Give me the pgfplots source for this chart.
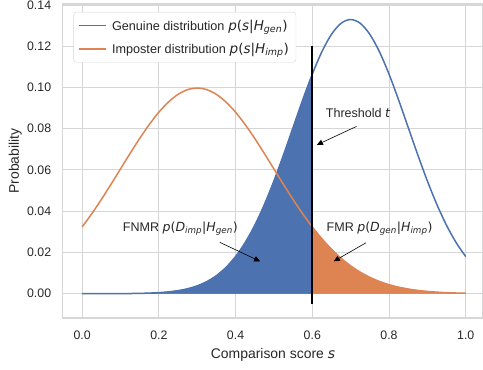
\documentclass[border=0pt]{standalone}
\usepackage{pgfplots}
\pgfplotsset{compat=1.18}
\usepackage{fontspec}
\setmainfont{Liberation Sans}
\newfontfamily\mfont{DejaVu Sans}
\usetikzlibrary{arrows.meta}

\definecolor{genblue}{HTML}{4C72B0}
\definecolor{imporange}{HTML}{DD8452}
\definecolor{gridgray}{HTML}{D6D6D6}
\definecolor{txt}{HTML}{262626}

% math-style pieces: italic symbols, upright delimiters, small italic subscripts
\newcommand{\mi}[1]{{\mfont\itshape #1}}
\newcommand{\mr}[1]{{\mfont #1}}
\newcommand{\msub}[1]{\textsubscript{\mfont\itshape #1}}
% slightly larger formula set inside the legend
\newcommand{\lmath}[1]{{\fontsize{13.6}{14}\selectfont #1}}

\pgfplotsset{
  longline/.style={legend image code/.code={\draw[##1, line width=1.5bp] (0bp,0bp) -- (27bp,0bp);}},
}

\begin{document}
\begin{tikzpicture}
\begin{axis}[
  scale only axis,
  width=420.5bp, height=314.3bp,
  xmin=-0.05, xmax=1.045,
  ymin=-0.01177, ymax=0.1405,
  xtick={0,0.2,0.4,0.6,0.8,1},
  ytick={0,0.02,0.04,0.06,0.08,0.1,0.12,0.14},
  /pgf/number format/assume math mode=true,
  ticklabel style={font=\fontsize{12.4}{15}\selectfont, text=txt, inner sep=0pt},
  xticklabel style={anchor=base, yshift=-21.7bp, /pgf/number format/.cd, fixed, fixed zerofill, precision=1},
  yticklabel style={anchor=east, xshift=-11.6bp, /pgf/number format/.cd, fixed, fixed zerofill, precision=2},
  major tick length=0pt,
  tick style={draw=none},
  grid=major,
  grid style={draw=gridgray, line width=1bp},
  axis line style={draw=gridgray, line width=1.1bp},
  every axis x label/.style={at={([yshift=-40.3bp]axis description cs:0.5,0)}, anchor=base,
    font=\fontsize{14}{16}\selectfont, text=txt, inner sep=0pt},
  every axis y label/.style={at={([xshift=-44bp]axis description cs:0,0.5)}, rotate=90, anchor=base,
    font=\fontsize{14}{16}\selectfont, text=txt, inner sep=0pt},
  xlabel={Comparison score \mi{s}},
  ylabel={Probability},
  legend cell align=left,
  legend style={
    at={(0,1)}, anchor=north west, xshift=10.5bp, yshift=-8bp,
    draw=gridgray, fill=white, rounded corners=3bp,
    font=\fontsize{12.7}{14}\selectfont, text=txt,
    inner xsep=5bp, inner ysep=5.5bp, row sep=7.5bp,
    /tikz/every odd column/.append style={column sep=3bp},
  },
]

% shaded tails: false non-match (genuine below threshold) and false match (imposter above)
\addplot[draw=genblue, fill=genblue, line width=0.5bp, forget plot] coordinates {
  (0,0) (0,0.0000025) (0.025,0.0000053) (0.05,0.0000111) (0.075,0.0000225)
  (0.1,0.0000446) (0.125,0.0000857) (0.15,0.000160) (0.175,0.000291)
  (0.2,0.000514) (0.225,0.000884) (0.25,0.00148) (0.275,0.00240)
  (0.3,0.00380) (0.325,0.00584) (0.35,0.00874) (0.375,0.01272)
  (0.4,0.01800) (0.425,0.02477) (0.45,0.03316) (0.475,0.04317)
  (0.5,0.05467) (0.525,0.06733) (0.55,0.08066) (0.575,0.09397)
  (0.6,0.10648) (0.6,0)
} \closedcycle;
\addplot[draw=imporange, fill=imporange, line width=0.5bp, forget plot] coordinates {
  (0.6,0) (0.6,0.03238) (0.625,0.02664) (0.65,0.02157) (0.675,0.01720)
  (0.7,0.01350) (0.725,0.01043) (0.75,0.00794) (0.775,0.00594)
  (0.8,0.00438) (0.825,0.00318) (0.85,0.00227) (0.875,0.00160)
  (0.9,0.00111) (0.925,0.000755) (0.95,0.000507) (0.975,0.000335)
  (1,0.000218) (1,0)
} \closedcycle;

% score distributions
\addplot[genblue, line width=1.5bp, smooth, longline] coordinates {
  (0,0.0000025) (0.025,0.0000053) (0.05,0.0000111) (0.075,0.0000225)
  (0.1,0.0000446) (0.125,0.0000857) (0.15,0.000160) (0.175,0.000291)
  (0.2,0.000514) (0.225,0.000884) (0.25,0.00148) (0.275,0.00240)
  (0.3,0.00380) (0.325,0.00584) (0.35,0.00874) (0.375,0.01272)
  (0.4,0.01800) (0.425,0.02477) (0.45,0.03316) (0.475,0.04317)
  (0.5,0.05467) (0.525,0.06733) (0.55,0.08066) (0.575,0.09397)
  (0.6,0.10648) (0.625,0.11736) (0.65,0.12579) (0.675,0.13115)
  (0.7,0.13298) (0.725,0.13115) (0.75,0.12579) (0.775,0.11736)
  (0.8,0.10648) (0.825,0.09397) (0.85,0.08066) (0.875,0.06733)
  (0.9,0.05467) (0.925,0.04317) (0.95,0.03316) (0.975,0.02477)
  (1,0.01800)
};
\addlegendentry{Genuine distribution\hspace{0.3em}\lmath{\mi{p}\mr{(}\mi{s}\mr{|}\mi{H}\msub{gen}\mr{)}}}

\addplot[imporange, line width=1.5bp, smooth, longline] coordinates {
  (0,0.03238) (0.025,0.03875) (0.05,0.04566) (0.075,0.05297)
  (0.1,0.06049) (0.125,0.06801) (0.15,0.07529) (0.175,0.08204)
  (0.2,0.08802) (0.225,0.09296) (0.25,0.09667) (0.275,0.09896)
  (0.3,0.09974) (0.325,0.09896) (0.35,0.09667) (0.375,0.09296)
  (0.4,0.08802) (0.425,0.08204) (0.45,0.07529) (0.475,0.06801)
  (0.5,0.06049) (0.525,0.05297) (0.55,0.04566) (0.575,0.03875)
  (0.6,0.03238) (0.625,0.02664) (0.65,0.02157) (0.675,0.01720)
  (0.7,0.01350) (0.725,0.01043) (0.75,0.00794) (0.775,0.00594)
  (0.8,0.00438) (0.825,0.00318) (0.85,0.00227) (0.875,0.00160)
  (0.9,0.00111) (0.925,0.000755) (0.95,0.000507) (0.975,0.000335)
  (1,0.000218)
};
\addlegendentry{Imposter distribution\hspace{0.3em}\lmath{\mi{p}\mr{(}\mi{s}\mr{|}\mi{H}\msub{imp}\mr{)}}}

% decision threshold
\addplot[black, line width=2bp, forget plot] coordinates {(0.6,-0.005) (0.6,0.12)};

% annotations
\node[anchor=base west, font=\fontsize{12.6}{15}\selectfont, text=txt, inner sep=0pt]
  at (axis cs:0.635,0.0853) {Threshold \mi{t}};
\draw[-{Triangle[length=6bp,width=5.5bp]}, line width=0.6bp]
  (axis cs:0.715,0.0811) -- (axis cs:0.612,0.0722);

\node[anchor=base west, font=\fontsize{12.6}{15}\selectfont, text=txt, inner sep=0pt]
  at (axis cs:0.106,0.0302) {FNMR \mi{p}\mr{(}\mi{D}\msub{imp}\mr{|}\mi{H}\msub{gen}\mr{)}};
\draw[-{Triangle[length=6bp,width=5.5bp]}, line width=0.6bp]
  (axis cs:0.359,0.0249) -- (axis cs:0.464,0.0157);

\node[anchor=base west, font=\fontsize{12.6}{15}\selectfont, text=txt, inner sep=0pt]
  at (axis cs:0.637,0.0302) {FMR \mi{p}\mr{(}\mi{D}\msub{gen}\mr{|}\mi{H}\msub{imp}\mr{)}};
\draw[-{Triangle[length=6bp,width=5.5bp]}, line width=0.6bp]
  (axis cs:0.74,0.0247) -- (axis cs:0.656,0.0157);

\end{axis}
% page extent: the same margins round the plot frame on every side
\pgfresetboundingbox
\path[use as bounding box] ([xshift=-63bp,yshift=-52bp]current axis.south west)
  rectangle ([yshift=4bp]current axis.north east);
\end{tikzpicture}
\end{document}
